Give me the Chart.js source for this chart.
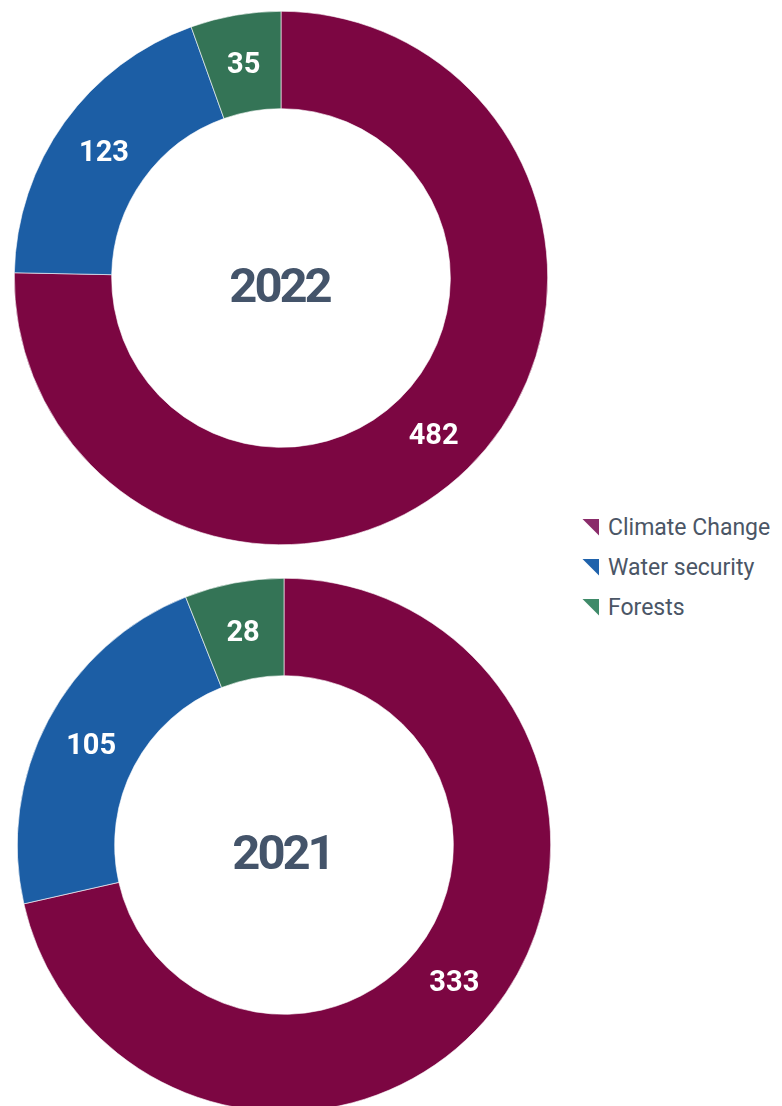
<!DOCTYPE html>
<html>
<head>
<meta charset="utf-8">
<script src="https://cdn.jsdelivr.net/npm/chart.js@4.4.1/dist/chart.umd.min.js"></script>
<style>
  html, body { margin: 0; padding: 0; background: #fff; width: 782px; height: 1106px; overflow: hidden; }
  .wrap { position: absolute; width: 534px; height: 534px; }
  #legend { position: absolute; left: 582px; top: 507px; font-family: Roboto, "Noto Sans", sans-serif; font-size: 23px; color: #4b5666; }
  .item { height: 40px; display: flex; align-items: center; white-space: nowrap; }
  .tri { width: 17px; height: 17px; margin-right: 9px; clip-path: polygon(0 0, 100% 0, 100% 100%); }
</style>
</head>
<body>
<div class="wrap" style="left:14px; top:11px;"><canvas id="c2022"></canvas></div>
<div class="wrap" style="left:17px; top:578px;"><canvas id="c2021"></canvas></div>
<div id="legend"></div>
<script>
const categories = ["Climate Change", "Water security", "Forests"];
const values2022 = [482, 123, 35];
const values2021 = [333, 105, 28];
const years = ["2022", "2021"];

const sliceColors = ["#7c0642", "#1c5ea5", "#347456"];
const legendColors = ["#8a2c6a", "#1f62ab", "#3f8a69"];

const valueLabels = {
  id: 'valueLabels',
  afterDatasetsDraw(chart) {
    const ctx = chart.ctx;
    const meta = chart.getDatasetMeta(0);
    ctx.save();
    ctx.fillStyle = '#ffffff';
    const ls = 29;
    ctx.font = 'bold ' + ls + 'px Roboto, "Noto Sans", sans-serif';
    ctx.textAlign = 'center';
    ctx.textBaseline = 'alphabetic';
    meta.data.forEach((arc, i) => {
      const p = arc.tooltipPosition();
      ctx.fillText(String(chart.data.datasets[0].data[i]), p.x, p.y + ls * 0.355);
    });
    // center year
    const a = meta.data[0];
    ctx.fillStyle = '#44546a';
    const cs = 49;
    ctx.font = 'bold ' + cs + 'px Roboto, "Noto Sans", sans-serif';
    try { ctx.letterSpacing = '-3px'; } catch (e) {}
    ctx.fillText(chart.options.plugins.centerText.text, a.x - 1.5, a.y + 7 + cs * 0.355);
    ctx.restore();
  }
};

function makeChart(id, values, year) {
  return new Chart(document.getElementById(id), {
    type: 'doughnut',
    data: {
      labels: categories,
      datasets: [{
        data: values,
        backgroundColor: sliceColors,
        borderColor: '#ffffff',
        borderWidth: 0.6,
        hoverOffset: 0
      }]
    },
    options: {
      responsive: true,
      maintainAspectRatio: false,
      animation: false,
      cutout: '63.5%',
      layout: { padding: 0 },
      plugins: {
        legend: { display: false },
        tooltip: { enabled: false },
        centerText: { text: year }
      },
      events: []
    },
    plugins: [valueLabels]
  });
}

makeChart('c2022', values2022, years[0]);
makeChart('c2021', values2021, years[1]);

const legend = document.getElementById('legend');
categories.forEach((c, i) => {
  const item = document.createElement('div');
  item.className = 'item';
  const t = document.createElement('div');
  t.className = 'tri';
  t.style.background = legendColors[i];
  const s = document.createElement('span');
  s.textContent = c;
  item.appendChild(t);
  item.appendChild(s);
  legend.appendChild(item);
});
</script>
</body>
</html>
